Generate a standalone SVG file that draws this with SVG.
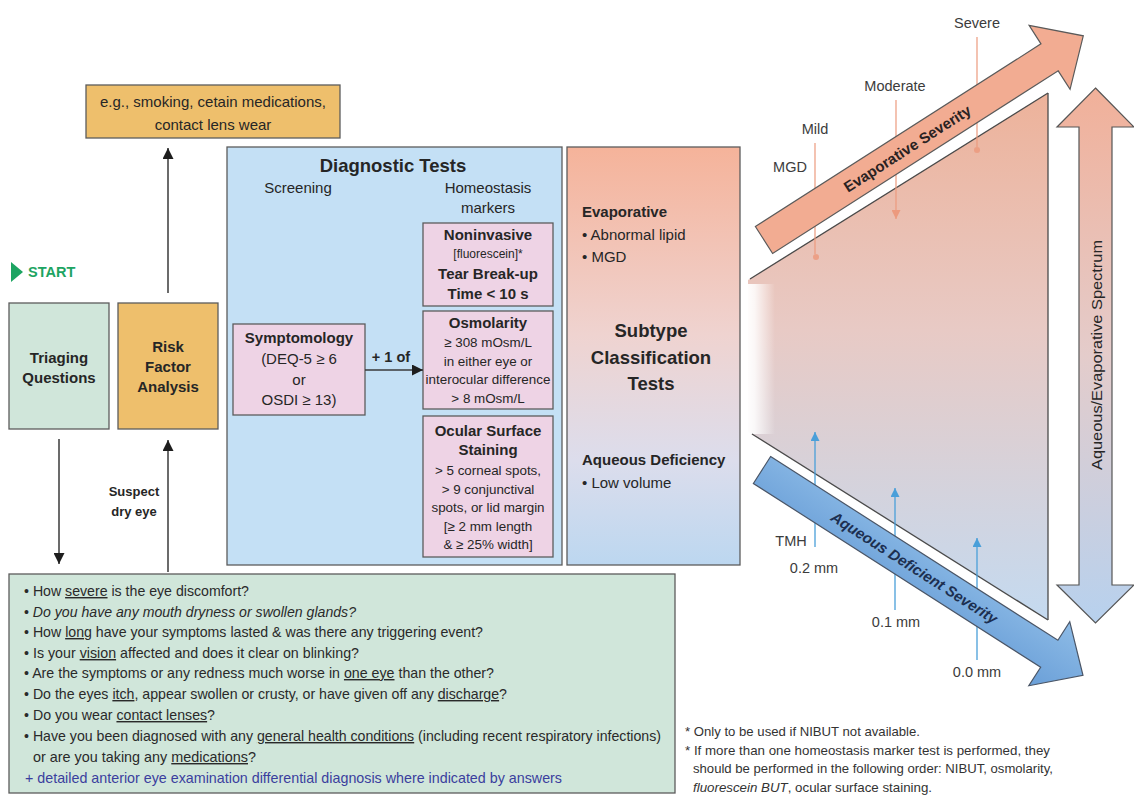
<svg xmlns="http://www.w3.org/2000/svg" width="1134" height="797" viewBox="0 0 1134 797">
<style>
.t{font-family:"Liberation Sans",Arial,Helvetica,sans-serif;fill:#262626}
.b{font-weight:bold}
.c{text-anchor:middle}
.s15{font-size:15px}
.s13{font-size:13.4px}
.box{stroke:#5c5c5c;stroke-width:1.3}
.pink{fill:#EED3E5}
.gold{fill:#EEBF6C}
.green{fill:#D0E6DA}
.lbl{font-family:"Liberation Sans",Arial,Helvetica,sans-serif;font-size:14.5px;fill:#3c3c3c;text-anchor:middle}
.q{font-family:"Liberation Sans",Arial,Helvetica,sans-serif;font-size:14.2px;fill:#2a2a2a}
.fn{font-family:"Liberation Sans",Arial,Helvetica,sans-serif;font-size:13px;fill:#333}
.u{text-decoration:underline}
.conn{stroke:#3a3a3a;stroke-width:1.5;fill:none}
.evl{stroke:#EC9A7E;stroke-width:1.2}
.aql{stroke:#4A9FD9;stroke-width:1.3}
.edge{stroke:#4a4a4a;stroke-width:1.3}
</style>
<defs>
<marker id="ah" viewBox="0 0 10 10" refX="10" refY="5" markerUnits="userSpaceOnUse" markerWidth="11" markerHeight="11" orient="auto">
<path d="M0,0 L10,5 L0,10 z" fill="#1e1e1e"/>
</marker>
<marker id="ahb" viewBox="0 0 10 10" refX="10" refY="5" markerUnits="userSpaceOnUse" markerWidth="9" markerHeight="9" orient="auto">
<path d="M0,0 L10,5 L0,10 z" fill="#4A9FD9"/>
</marker>
<marker id="ahs" viewBox="0 0 10 10" refX="10" refY="5" markerUnits="userSpaceOnUse" markerWidth="9" markerHeight="9" orient="auto">
<path d="M0,0 L10,5 L0,10 z" fill="#EC9A7E"/>
</marker>
<linearGradient id="gSub" x1="0" y1="0" x2="0" y2="1">
<stop offset="0" stop-color="#F5B39A"/>
<stop offset="0.45" stop-color="#EFD3D0"/>
<stop offset="0.75" stop-color="#DCDDEC"/>
<stop offset="1" stop-color="#BCD7F0"/>
</linearGradient>
<linearGradient id="gTri" gradientUnits="userSpaceOnUse" x1="0" y1="93" x2="0" y2="620">
<stop offset="0" stop-color="#EDB29A"/>
<stop offset="0.45" stop-color="#E8CAC5"/>
<stop offset="1" stop-color="#C4DAF0"/>
</linearGradient>
<linearGradient id="gFade" gradientUnits="userSpaceOnUse" x1="746" y1="0" x2="775" y2="0">
<stop offset="0" stop-color="#fff" stop-opacity="1"/>
<stop offset="0.3" stop-color="#fff" stop-opacity="0.85"/>
<stop offset="1" stop-color="#fff" stop-opacity="0"/>
</linearGradient>
<linearGradient id="gSpec" gradientUnits="userSpaceOnUse" x1="0" y1="88" x2="0" y2="623">
<stop offset="0" stop-color="#F1B099"/>
<stop offset="0.5" stop-color="#E4CCCB"/>
<stop offset="1" stop-color="#B7D1EE"/>
</linearGradient>
<linearGradient id="gBlue" x1="0" y1="0" x2="0" y2="1">
<stop offset="0" stop-color="#8DBBE6"/>
<stop offset="1" stop-color="#6A9FD8"/>
</linearGradient>
</defs>

<rect width="1134" height="797" fill="#ffffff"/>

<g id="start">
<polygon points="11,262 23,272 11,282" fill="#1DA462"/>
<text class="t b" x="28" y="277" style="font-size:14.5px;fill:#1DA462">START</text>
</g>

<g id="risk-examples">
<rect class="box gold" x="86" y="85" width="254" height="53"/>
<text class="t c s15" x="213" y="107">e.g., smoking, cetain medications,</text>
<text class="t c s15" x="213" y="130">contact lens wear</text>
</g>

<g id="triaging">
<rect class="box green" x="9" y="303" width="100" height="126"/>
<text class="t b c s15" x="59" y="363">Triaging</text>
<text class="t b c s15" x="59" y="383">Questions</text>
</g>

<g id="risk-factor">
<rect class="box gold" x="118" y="303" width="100" height="126"/>
<text class="t b c s15" x="168" y="352">Risk</text>
<text class="t b c s15" x="168" y="372">Factor</text>
<text class="t b c s15" x="168" y="392">Analysis</text>
</g>

<g id="suspect-label">
<text class="t b c" x="134" y="496" style="font-size:13px">Suspect</text>
<text class="t b c" x="134" y="516" style="font-size:13px">dry eye</text>
</g>

<g id="diagnostic-tests">
<rect class="box" x="227" y="147" width="335" height="418" fill="#C4E0F5"/>
<text class="t b c" x="393" y="172" style="font-size:18.5px">Diagnostic Tests</text>
<text class="t c s15" x="298" y="193">Screening</text>
<text class="t c s15" x="488" y="193">Homeostasis</text>
<text class="t c s15" x="488" y="213">markers</text>
</g>

<g id="symptomology">
<rect class="box pink" x="233" y="324" width="132" height="91"/>
<text class="t b c s15" x="299" y="343">Symptomology</text>
<text class="t c s15" x="299" y="364">(DEQ-5 ≥ 6</text>
<text class="t c s15" x="299" y="385">or</text>
<text class="t c s15" x="299" y="405">OSDI ≥ 13)</text>
</g>

<g id="nibut">
<rect class="box pink" x="423" y="223" width="130" height="83"/>
<text class="t b c s15" x="488" y="240">Noninvasive</text>
<text class="t c" x="488" y="258" style="font-size:12px">[fluorescein]*</text>
<text class="t b c s15" x="488" y="279">Tear Break-up</text>
<text class="t b c s15" x="488" y="299">Time &lt; 10 s</text>
</g>

<g id="osmolarity">
<rect class="box pink" x="423" y="311" width="130" height="98"/>
<text class="t b c s15" x="488" y="328">Osmolarity</text>
<text class="t c s13" x="488" y="347">≥ 308 mOsm/L</text>
<text class="t c s13" x="488" y="366">in either eye or</text>
<text class="t c s13" x="488" y="384">interocular difference</text>
<text class="t c s13" x="488" y="403">&gt; 8 mOsm/L</text>
</g>

<g id="staining">
<rect class="box pink" x="423" y="416" width="130" height="141"/>
<text class="t b c s15" x="488" y="436">Ocular Surface</text>
<text class="t b c s15" x="488" y="455">Staining</text>
<text class="t c s13" x="488" y="475">&gt; 5 corneal spots,</text>
<text class="t c s13" x="488" y="494">&gt; 9 conjunctival</text>
<text class="t c s13" x="488" y="512">spots, or lid margin</text>
<text class="t c s13" x="488" y="531">[≥ 2 mm length</text>
<text class="t c s13" x="488" y="549">&amp; ≥ 25% width]</text>
</g>

<g id="subtype">
<rect class="box" x="567" y="147" width="173" height="418" fill="url(#gSub)"/>
<text class="t b s15" x="582" y="217">Evaporative</text>
<text class="t s15" x="582" y="240">• Abnormal lipid</text>
<text class="t s15" x="582" y="262">• MGD</text>
<text class="t b c" x="651" y="337" style="font-size:18.5px">Subtype</text>
<text class="t b c" x="651" y="364" style="font-size:18.5px">Classification</text>
<text class="t b c" x="651" y="390" style="font-size:18.5px">Tests</text>
<text class="t b s15" x="582" y="465">Aqueous Deficiency</text>
<text class="t s15" x="582" y="488">• Low volume</text>
</g>

<g id="severity-chart">
<polygon points="748,280 1048,93 1048,620 748,432" fill="url(#gTri)"/>
<rect x="744" y="284" width="34" height="150" fill="url(#gFade)"/>
<line class="edge" x1="750" y1="279" x2="1048" y2="93"/>
<line class="edge" x1="1048" y1="93" x2="1048" y2="620"/>
<line class="edge" x1="752" y1="434" x2="1048" y2="620"/>

<g id="evaporative-markers">
<text class="lbl" x="790" y="172">MGD</text>
<text class="lbl" x="815" y="134">Mild</text>
<text class="lbl" x="895" y="91">Moderate</text>
<text class="lbl" x="977" y="28">Severe</text>
<line class="evl" x1="815" y1="143" x2="815" y2="254"/>
<circle cx="816" cy="257" r="3" fill="#EC9A7E" opacity="0.85"/>
<line class="evl" x1="896" y1="100" x2="896" y2="219" marker-end="url(#ahs)"/>
<line class="evl" x1="977" y1="37" x2="977" y2="147"/>
<circle cx="977" cy="150" r="3" fill="#EC9A7E" opacity="0.85"/>
</g>

<g id="aqueous-markers">
<text class="lbl" x="791" y="546">TMH</text>
<text class="lbl" x="814" y="573">0.2 mm</text>
<text class="lbl" x="896" y="627">0.1 mm</text>
<text class="lbl" x="977" y="677">0.0 mm</text>
<line class="aql" x1="815" y1="547" x2="815" y2="432" marker-end="url(#ahb)"/>
<line class="aql" x1="895" y1="610" x2="895" y2="488" marker-end="url(#ahb)"/>
<line class="aql" x1="977" y1="660" x2="977" y2="538" marker-end="url(#ahb)"/>
</g>

<g id="evaporative-severity" transform="translate(764,240) rotate(-32.6)">
<polygon points="0,-16 339,-16 339,-38 379,0 339,38 339,16 0,16" fill="#F2AC92" stroke="#5a5a5a" stroke-width="1.2"/>
<text class="t b c" x="170" y="5.5" style="font-size:15px;fill:#2a2222">Evaporative Severity</text>
</g>

<g id="aqueous-severity" transform="translate(762,470) rotate(32.6)">
<polygon points="0,-16 341,-16 341,-38 381,0 341,38 341,16 0,16" fill="url(#gBlue)" stroke="#4a5566" stroke-width="1.2"/>
<text class="t b c" x="181" y="5.5" style="font-size:15px;font-style:italic;fill:#1C2F50">Aqueous Deficient Severity</text>
</g>

<g id="spectrum">
<polygon points="1095.5,88 1134,127 1112,127 1112,585 1134,585 1095.5,623 1057,585 1079,585 1079,127 1057,127" fill="url(#gSpec)" stroke="#555" stroke-width="1.2"/>
<text class="t c" transform="translate(1101.5,355) rotate(-90)" x="0" y="0" style="font-size:15.5px" textLength="230" lengthAdjust="spacingAndGlyphs">Aqueous/Evaporative Spectrum</text>
</g>
</g>

<g id="triage-questions">
<rect class="box green" x="9" y="574" width="666" height="219"/>
<text class="q" x="24" y="596" textLength="225" lengthAdjust="spacingAndGlyphs">• How <tspan class="u">severe</tspan> is the eye discomfort?</text>
<text class="q" x="24" y="617" textLength="332" lengthAdjust="spacingAndGlyphs">• <tspan font-style="italic">Do you have any mouth dryness or swollen glands?</tspan></text>
<text class="q" x="24" y="637" textLength="459" lengthAdjust="spacingAndGlyphs">• How <tspan class="u">long</tspan> have your symptoms lasted &amp; was there any triggering event?</text>
<text class="q" x="24" y="658" textLength="335" lengthAdjust="spacingAndGlyphs">• Is your <tspan class="u">vision</tspan> affected and does it clear on blinking?</text>
<text class="q" x="24" y="678" textLength="470" lengthAdjust="spacingAndGlyphs">• Are the symptoms or any redness much worse in <tspan class="u">one eye</tspan> than the other?</text>
<text class="q" x="24" y="699" textLength="483" lengthAdjust="spacingAndGlyphs">• Do the eyes <tspan class="u">itch</tspan>, appear swollen or crusty, or have given off any <tspan class="u">discharge</tspan>?</text>
<text class="q" x="24" y="720" textLength="191" lengthAdjust="spacingAndGlyphs">• Do you wear <tspan class="u">contact lenses</tspan>?</text>
<text class="q" x="24" y="741" textLength="637" lengthAdjust="spacingAndGlyphs">• Have you been diagnosed with any <tspan class="u">general health conditions</tspan> (including recent respiratory infections)</text>
<text class="q" x="33" y="762" textLength="223" lengthAdjust="spacingAndGlyphs">or are you taking any <tspan class="u">medications</tspan>?</text>
<text class="q" x="25" y="783" textLength="537" lengthAdjust="spacingAndGlyphs" style="fill:#3B3F9E">+ detailed anterior eye examination differential diagnosis where indicated  by answers</text>
</g>

<g id="footnotes">
<text class="fn" x="685" y="736" textLength="235" lengthAdjust="spacingAndGlyphs">* Only to be used if NIBUT not available.</text>
<text class="fn" x="685" y="755" textLength="365" lengthAdjust="spacingAndGlyphs">* If more than one homeostasis marker test is performed, they</text>
<text class="fn" x="693" y="773" textLength="360" lengthAdjust="spacingAndGlyphs">should be performed in the following order: NIBUT, osmolarity,</text>
<text class="fn" x="693" y="792" textLength="239" lengthAdjust="spacingAndGlyphs"><tspan font-style="italic">fluorescein BUT</tspan>, ocular surface staining.</text>
</g>

<g id="connectors">
<line class="conn" x1="168" y1="293" x2="168" y2="148" marker-end="url(#ah)"/>
<line class="conn" x1="59" y1="439" x2="59" y2="564" marker-end="url(#ah)"/>
<line class="conn" x1="168" y1="572" x2="168" y2="440" marker-end="url(#ah)"/>
<line class="conn" x1="365" y1="370" x2="423" y2="370" marker-end="url(#ah)"/>
<text class="t b c" x="391" y="362" style="font-size:14.5px">+ 1 of</text>
</g>
</svg>
